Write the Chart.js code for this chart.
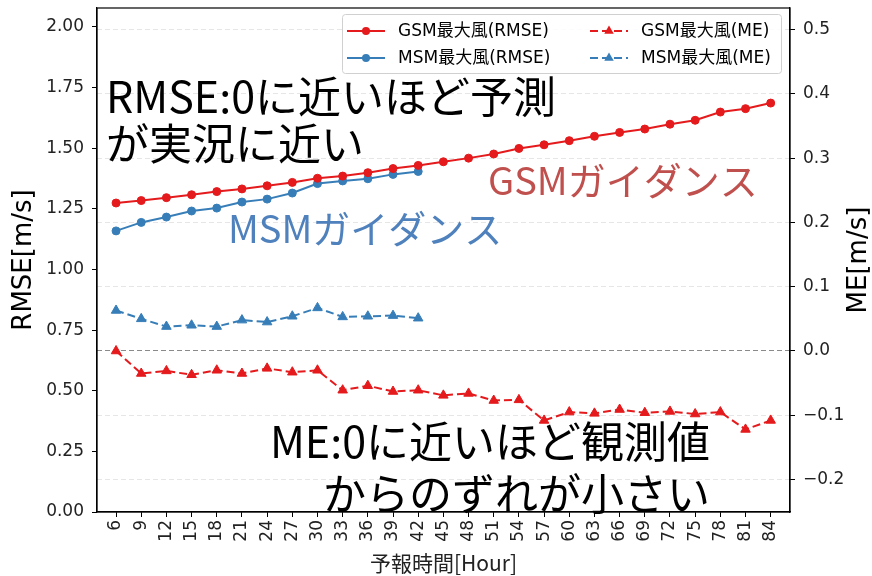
<!DOCTYPE html>
<html lang="ja">
<head>
<meta charset="UTF-8">
<title>最大風 RMSE / ME</title>
<script src="https://cdn.jsdelivr.net/npm/chart.js@4.4.0/dist/chart.umd.min.js"></script>
<style>
body { margin: 0; background: #fff; }
#wrap { width: 872px; height: 576px; }
</style>
</head>
<body>
<div id="wrap"><canvas id="chart" width="872" height="576"></canvas></div>
<script>
// forecast hours (x axis)
const hours = [6, 9, 12, 15, 18, 21, 24, 27, 30, 33, 36, 39, 42, 45, 48, 51, 54, 57, 60, 63, 66, 69, 72, 75, 78, 81, 84]

// RMSE [m/s] (left axis)
const gsmRmse = [1.274, 1.284, 1.296, 1.308, 1.321, 1.332, 1.345, 1.359, 1.376, 1.385, 1.399, 1.416, 1.429,
  1.444, 1.459, 1.476, 1.499, 1.514, 1.531, 1.549, 1.565, 1.579, 1.599, 1.615, 1.649, 1.663, 1.686]
const msmRmse = [1.159, 1.194, 1.216, 1.241, 1.253, 1.278, 1.290, 1.315, 1.354, 1.365, 1.374, 1.392, 1.404]

// ME [m/s] (right axis)
const gsmMe = [0.000, -0.035, -0.031, -0.037, -0.030, -0.035, -0.027, -0.033, -0.030, -0.061, -0.054, -0.063, -0.061,
  -0.069, -0.066, -0.077, -0.076, -0.108, -0.095, -0.097, -0.091, -0.096, -0.094, -0.098, -0.095, -0.122, -0.108]
const msmMe = [0.063, 0.050, 0.038, 0.040, 0.038, 0.048, 0.045, 0.054, 0.067, 0.053, 0.054, 0.055, 0.051]

const rmseTicks = [0, 0.25, 0.5, 0.75, 1.0, 1.25, 1.5, 1.75, 2.0]
const meTicks = [-0.2, -0.1, 0.0, 0.1, 0.2, 0.3, 0.4, 0.5]

const RED = '#e41a1c'
const BLUE = '#377eb8'
const tickFont = { family: 'DejaVu Sans', size: 17 }

const pts = (ys) => ys.map((v, i) => ({ x: hours[i], y: v }))

// no extra room for overflowing tick labels, the box is fixed
const noPad = s => { s.paddingTop = 0; s.paddingBottom = 0; s.paddingLeft = 0; s.paddingRight = 0 }

// frame, right axis title, notes and legend box
const decor = {
  id: 'decor',
  afterDraw(chart) {
    const { ctx, chartArea: a } = chart
    ctx.save()

    ctx.strokeStyle = '#000'
    ctx.lineWidth = 1.2
    ctx.strokeRect(a.left, a.top, a.right - a.left, a.bottom - a.top)

    // right title reads bottom to top like the left one
    ctx.save()
    ctx.translate(859, (a.top + a.bottom) / 2)
    ctx.rotate(-Math.PI / 2)
    ctx.font = '26px "DejaVu Sans"'
    ctx.fillStyle = '#000'
    ctx.textAlign = 'center'
    ctx.textBaseline = 'middle'
    ctx.fillText('ME[m/s]', 0, 0)
    ctx.restore()

    const notes = [
      { text: 'RMSE:0に近いほど予測', x: 106, y: 113, size: 43, color: '#000', align: 'left' },
      { text: 'が実況に近い', x: 106, y: 160, size: 43, color: '#000', align: 'left' },
      { text: 'GSMガイダンス', x: 488, y: 195, size: 38, color: '#c0504d', align: 'left' },
      { text: 'MSMガイダンス', x: 228, y: 243, size: 38, color: '#4f81bd', align: 'left' },
      { text: 'ME:0に近いほど観測値', x: 710, y: 458, size: 43, color: '#000', align: 'right' },
      { text: 'からのずれが小さい', x: 710, y: 510, size: 43, color: '#000', align: 'right' }
    ]
    ctx.textBaseline = 'alphabetic'
    for (const n of notes) {
      ctx.font = n.size + 'px "Noto Sans CJK JP"'
      ctx.fillStyle = n.color
      ctx.textAlign = n.align
      ctx.fillText(n.text, n.x, n.y)
    }

    // legend (two columns, like matplotlib ncol=2)
    ctx.fillStyle = 'rgba(255,255,255,0.85)'
    ctx.strokeStyle = '#d0d0d0'
    ctx.lineWidth = 1
    ctx.beginPath()
    ctx.roundRect(342.5, 14.5, 439, 59, 3)
    ctx.fill()
    ctx.stroke()

    const colX = [347, 590]
    const rowY = [31, 58]
    chart.data.datasets.forEach((ds, i) => {
      const x0 = colX[Math.floor(i / 2)]
      const y0 = rowY[i % 2]
      ctx.strokeStyle = ds.borderColor
      ctx.fillStyle = ds.borderColor
      ctx.lineWidth = 2
      ctx.setLineDash(ds.borderDash || [])
      ctx.beginPath()
      ctx.moveTo(x0, y0)
      ctx.lineTo(x0 + 38, y0)
      ctx.stroke()
      ctx.setLineDash([])
      const mx = x0 + 19
      ctx.beginPath()
      if (ds.pointStyle === 'triangle') {
        const r = ds.pointRadius
        ctx.moveTo(mx, y0 - r)
        ctx.lineTo(mx + r * 0.866, y0 + r * 0.5)
        ctx.lineTo(mx - r * 0.866, y0 + r * 0.5)
        ctx.closePath()
      } else {
        ctx.arc(mx, y0, ds.pointRadius, 0, Math.PI * 2)
      }
      ctx.fill()
      ctx.font = '17px "DejaVu Sans", "Noto Sans CJK JP"'
      ctx.fillStyle = '#000'
      ctx.textAlign = 'left'
      ctx.textBaseline = 'middle'
      ctx.fillText(ds.label, x0 + 51, y0 + 1)
    })

    ctx.restore()
  }
}

new Chart(document.getElementById('chart'), {
  type: 'line',
  data: {
    datasets: [
      {
        label: 'GSM最大風(RMSE)', data: pts(gsmRmse), yAxisID: 'y',
        borderColor: RED, backgroundColor: RED, borderWidth: 2,
        pointStyle: 'circle', pointRadius: 4, pointBorderWidth: 1
      },
      {
        label: 'MSM最大風(RMSE)', data: pts(msmRmse), yAxisID: 'y',
        borderColor: BLUE, backgroundColor: BLUE, borderWidth: 2,
        pointStyle: 'circle', pointRadius: 4, pointBorderWidth: 1
      },
      {
        label: 'GSM最大風(ME)', data: pts(gsmMe), yAxisID: 'y1',
        borderColor: RED, backgroundColor: RED, borderWidth: 2, borderDash: [8, 4],
        pointStyle: 'triangle', pointRadius: 5.5, pointBorderWidth: 1
      },
      {
        label: 'MSM最大風(ME)', data: pts(msmMe), yAxisID: 'y1',
        borderColor: BLUE, backgroundColor: BLUE, borderWidth: 2, borderDash: [8, 4],
        pointStyle: 'triangle', pointRadius: 5.5, pointBorderWidth: 1
      }
    ]
  },
  options: {
    responsive: false,
    animation: false,
    layout: { padding: { top: 8, left: 0, right: 0, bottom: 0 } },
    plugins: { legend: { display: false }, tooltip: { enabled: false } },
    scales: {
      x: {
        type: 'linear', position: 'bottom', min: 3.73, max: 86.3,
        afterBuildTicks: s => { s.ticks = hours.map(v => ({ value: v })) },
        afterFit: s => { s.height = 64; noPad(s) },
        ticks: { autoSkip: false, minRotation: 90, maxRotation: 90, font: tickFont, color: '#222', padding: 3 },
        grid: { drawOnChartArea: false, tickLength: 5, tickColor: '#000', tickWidth: 1 },
        border: { color: '#000', width: 1.2 },
        title: {
          display: true, text: '予報時間[Hour]', color: '#222',
          font: { family: 'Noto Sans CJK JP', size: 21 }, padding: { top: 0, bottom: 0 }
        }
      },
      y: {
        position: 'left', min: 0, max: 2.078,
        afterBuildTicks: s => { s.ticks = rmseTicks.map(v => ({ value: v })) },
        afterFit: s => { s.width = 97; noPad(s) },
        ticks: { font: tickFont, color: '#222', padding: 8, callback: v => v.toFixed(2) },
        grid: { drawOnChartArea: false, tickLength: 5, tickColor: '#000', tickWidth: 1 },
        border: { color: '#000', width: 1.2 },
        title: {
          display: true, text: 'RMSE[m/s]', color: '#000',
          font: { family: 'DejaVu Sans', size: 26 }, padding: { top: 9, bottom: 0 }
        }
      },
      y1: {
        position: 'right', min: -0.2504, max: 0.5334,
        afterBuildTicks: s => { s.ticks = meTicks.map(v => ({ value: v })) },
        afterFit: s => { s.width = 82; noPad(s) },
        ticks: {
          font: tickFont, color: '#222', padding: 8,
          callback: v => (v < -1e-9 ? '\u2212' : '') + Math.abs(v).toFixed(1)
        },
        grid: {
          drawOnChartArea: true, tickLength: 5, tickColor: '#000', tickWidth: 1, lineWidth: 1,
          color: c => (c.tick && Math.abs(c.tick.value) < 1e-9) ? '#8a8a8a' : '#e6e6e6'
        },
        border: { color: '#000', width: 1.2, dash: [5, 3] }
      }
    }
  },
  plugins: [decor]
})
</script>
</body>
</html>
